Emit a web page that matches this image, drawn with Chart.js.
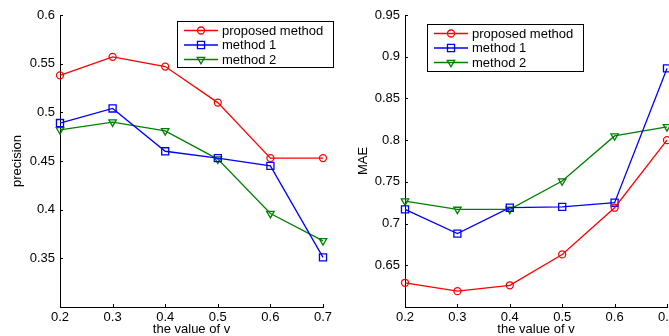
<!DOCTYPE html>
<html>
<head>
<meta charset="utf-8">
<script src="https://cdn.jsdelivr.net/npm/chart.js@4/dist/chart.umd.min.js"></script>
<style>
  html, body { margin: 0; padding: 0; background: #fff; overflow: hidden; width: 669px; height: 336px; }
  canvas { position: absolute; top: 0; }
  #precisionChart { left: 0; }
  #maeChart { left: 340px; }
</style>
</head>
<body>
<canvas id="precisionChart" width="340" height="336" style="width:340px;height:336px"></canvas>
<canvas id="maeChart" width="360" height="336" style="width:360px;height:336px"></canvas>
<script>
// x values (the value of v)
const vValues = [0.2, 0.3, 0.4, 0.5, 0.6, 0.7];
const seriesNames = ['proposed method', 'method 1', 'method 2'];

// left panel: precision
const precisionProposed = [0.538, 0.557, 0.547, 0.510, 0.453, 0.453];
const precisionMethod1  = [0.489, 0.504, 0.460, 0.453, 0.445, 0.351];
const precisionMethod2  = [0.482, 0.490, 0.481, 0.452, 0.396, 0.368];

// right panel: MAE
const maeProposed = [0.629, 0.619, 0.626, 0.663, 0.719, 0.800];
const maeMethod1  = [0.717, 0.688, 0.719, 0.720, 0.725, 0.886];
const maeMethod2  = [0.727, 0.717, 0.717, 0.751, 0.805, 0.816];

const FONT = "'Liberation Sans', Arial, sans-serif";
Chart.defaults.font.family = FONT;
Chart.defaults.font.size = 13;
Chart.defaults.color = '#000';

const styles = [
  { color: '#ff0000', pointStyle: 'circle', radius: 3.5, rotation: 0 },
  { color: '#0000ff', pointStyle: 'rect', radius: 5, rotation: 0 },
  { color: '#008000', pointStyle: 'triangle', radius: 4.3, rotation: 180 }
];

function toPoints(values) {
  return values.map((y, i) => ({ x: vValues[i], y: y }));
}

function fmt(v) {
  return String(parseFloat(v.toFixed(2)));
}

// legend drawn inside the plot, with a black frame like the original
const boxLegend = {
  id: 'boxLegend',
  afterDatasetsDraw(chart, args, opts) {
    const ctx = chart.ctx;
    ctx.save();
    ctx.fillStyle = '#fff';
    ctx.fillRect(opts.x, opts.y, opts.w, opts.h);
    ctx.strokeStyle = '#000';
    ctx.lineWidth = 1;
    ctx.strokeRect(opts.x + 0.5, opts.y + 0.5, opts.w, opts.h);
    chart.data.datasets.forEach((ds, i) => {
      const y = opts.y + 9.5 + i * 14.5;
      ctx.strokeStyle = ds.borderColor;
      ctx.lineWidth = ds.borderWidth;
      ctx.beginPath();
      ctx.moveTo(opts.x + 7, y);
      ctx.lineTo(opts.x + 41, y);
      ctx.stroke();
      ctx.fillStyle = 'rgba(0,0,0,0)';
      ctx.lineWidth = ds.pointBorderWidth;
      Chart.helpers.drawPoint(ctx, {
        pointStyle: ds.pointStyle,
        radius: ds.pointRadius,
        rotation: ds.pointRotation,
        borderWidth: ds.pointBorderWidth
      }, opts.x + 24, y);
      ctx.fillStyle = '#000';
      ctx.font = '13px ' + FONT;
      ctx.textBaseline = 'middle';
      ctx.fillText(ds.label, opts.x + 45, y + 0.5);
    });
    ctx.restore();
  }
};

// matlab style ticks pointing into the plot
const innerTicks = {
  id: 'innerTicks',
  afterDraw(chart) {
    const { ctx, chartArea: a, scales: { x, y } } = chart;
    ctx.save();
    ctx.strokeStyle = '#000';
    ctx.lineWidth = 1;
    ctx.beginPath();
    x.ticks.forEach(t => {
      const px = Math.round(x.getPixelForValue(t.value)) + 0.5;
      ctx.moveTo(px, a.bottom);
      ctx.lineTo(px, a.bottom - 3);
    });
    y.ticks.forEach(t => {
      if (!t.label) return;
      const py = Math.round(y.getPixelForValue(t.value)) + 0.5;
      ctx.moveTo(a.left, py);
      ctx.lineTo(a.left + 3, py);
    });
    ctx.stroke();
    ctx.restore();
  }
};

function makeChart(id, values, cfg) {
  const ctx = document.getElementById(id).getContext('2d');
  return new Chart(ctx, {
    type: 'line',
    data: {
      datasets: values.map((vals, i) => ({
        label: seriesNames[i],
        data: toPoints(vals),
        borderColor: styles[i].color,
        borderWidth: 1.3,
        pointStyle: styles[i].pointStyle,
        pointRadius: styles[i].radius,
        pointRotation: styles[i].rotation,
        pointBorderColor: styles[i].color,
        pointBackgroundColor: 'rgba(0,0,0,0)',
        pointBorderWidth: 1.3,
        tension: 0,
        fill: false,
        clip: false
      }))
    },
    options: {
      responsive: false,
      animation: false,
      layout: { padding: { top: 15, right: cfg.rightPad, left: 0, bottom: 0 } },
      plugins: {
        legend: { display: false },
        tooltip: { enabled: false },
        boxLegend: cfg.legend
      },
      scales: {
        x: {
          type: 'linear',
          min: 0.2,
          max: 0.7,
          grid: { display: false, drawTicks: false },
          border: { display: true, color: '#000', width: 1 },
          ticks: {
            stepSize: 0.1,
            padding: 3,
            maxRotation: 0,
            callback: v => v.toFixed(1)
          },
          title: {
            display: true,
            text: 'the value of v',
            font: { size: 13, lineHeight: 1 },
            padding: { top: 0, bottom: 0 }
          },
          afterFit: s => { s.height = 29; }
        },
        y: {
          min: cfg.yMin,
          max: cfg.yMax,
          grid: { display: false, drawTicks: false },
          border: { display: true, color: '#000', width: 1 },
          ticks: {
            stepSize: 0.05,
            padding: 5,
            callback: v => (Math.abs(v - cfg.yMin) < 1e-9 ? '' : fmt(v))
          },
          title: {
            display: true,
            text: cfg.yTitle,
            font: { size: 13, lineHeight: 1 },
            padding: { top: cfg.titlePad, bottom: 0 }
          },
          afterFit: s => { s.width = cfg.yWidth; }
        }
      }
    },
    plugins: [boxLegend, innerTicks]
  });
}

makeChart('precisionChart', [precisionProposed, precisionMethod1, precisionMethod2], {
  yMin: 0.3, yMax: 0.6, yTitle: 'precision', yWidth: 60, rightPad: 17, titlePad: 11,
  legend: { x: 177, y: 21, w: 156, h: 46 }
});

makeChart('maeChart', [maeProposed, maeMethod1, maeMethod2], {
  yMin: 0.6, yMax: 0.95, yTitle: 'MAE', yWidth: 65, rightPad: 33, titlePad: 17,
  legend: { x: 87, y: 24, w: 156, h: 47 }
});
</script>
</body>
</html>
